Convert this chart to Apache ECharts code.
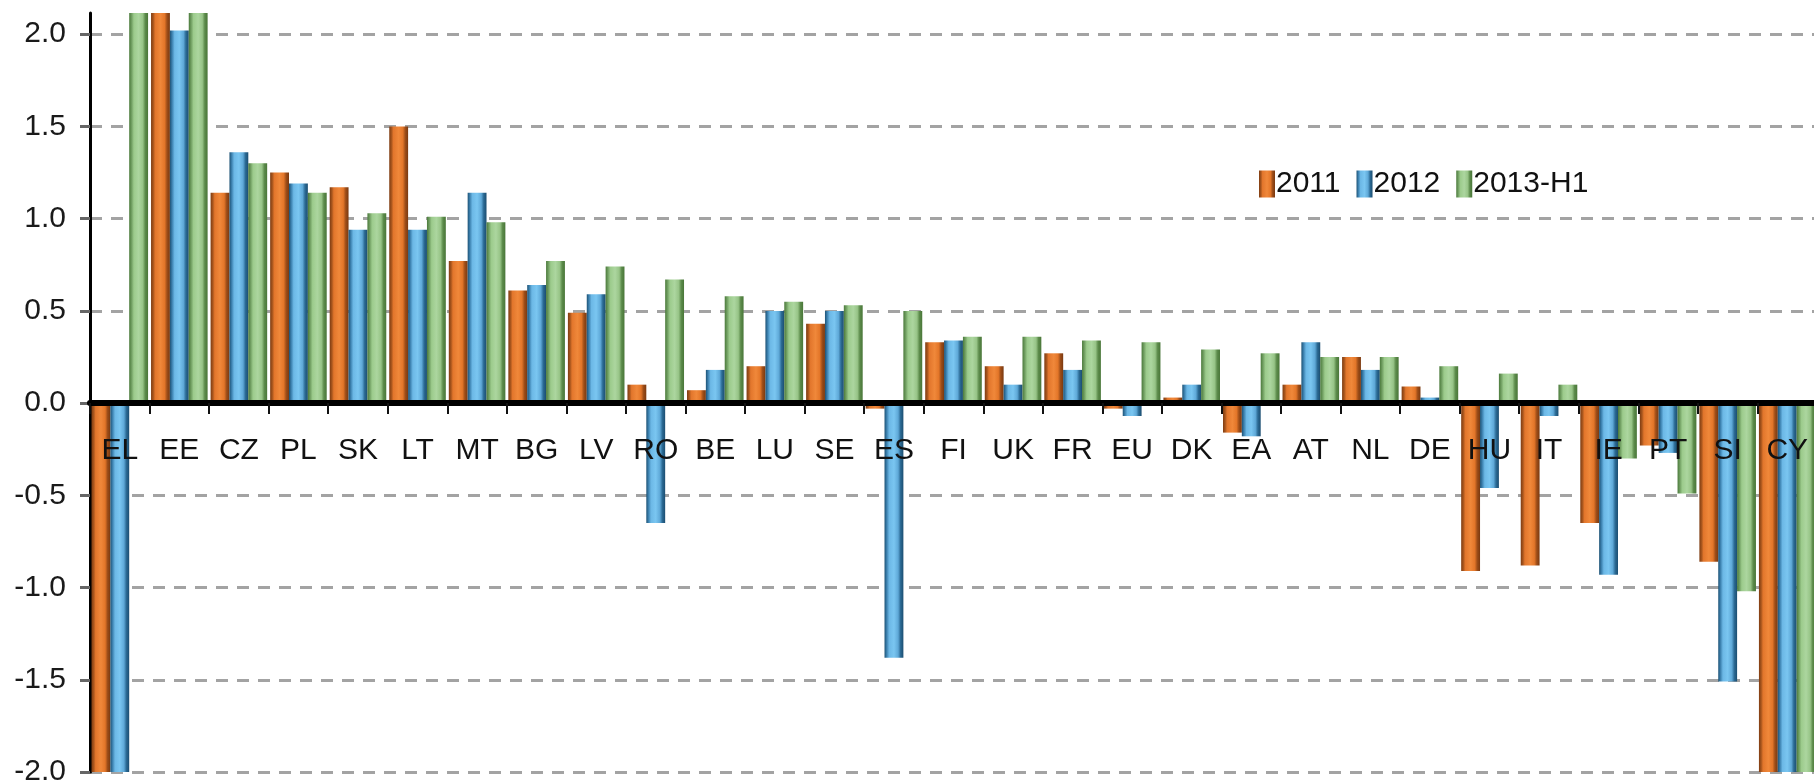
<!DOCTYPE html>
<html>
<head>
<meta charset="utf-8">
<script src="https://cdn.jsdelivr.net/npm/echarts@6/dist/echarts.min.js"></script>
<style>
  html, body { margin: 0; padding: 0; background: #ffffff; }
  #chart { width: 1814px; height: 784px; }
</style>
</head>
<body>
<div id="chart"></div>
<script>
// Country codes along the category axis
const categories = ['EL', 'EE', 'CZ', 'PL', 'SK', 'LT', 'MT', 'BG', 'LV', 'RO',
  'BE', 'LU', 'SE', 'ES', 'FI', 'UK', 'FR', 'EU', 'DK', 'EA',
  'AT', 'NL', 'DE', 'HU', 'IT', 'IE', 'PT', 'SI', 'CY'];

// Series values (percentage points)
const values2011 = [-2.6, 2.4, 1.14, 1.25, 1.17, 1.50, 0.77, 0.61, 0.49, 0.10,
  0.07, 0.20, 0.43, -0.03, 0.33, 0.20, 0.27, -0.03, 0.03, -0.16,
  0.10, 0.25, 0.09, -0.91, -0.88, -0.65, -0.23, -0.86, -2.4];
const values2012 = [-3.0, 2.02, 1.36, 1.19, 0.94, 0.94, 1.14, 0.64, 0.59, -0.65,
  0.18, 0.50, 0.50, -1.38, 0.34, 0.10, 0.18, -0.07, 0.10, -0.18,
  0.33, 0.18, 0.03, -0.46, -0.07, -0.93, -0.27, -1.51, -2.9];
const values2013H1 = [2.6, 2.3, 1.30, 1.14, 1.03, 1.01, 0.98, 0.77, 0.74, 0.67,
  0.58, 0.55, 0.53, 0.50, 0.36, 0.36, 0.34, 0.33, 0.29, 0.27,
  0.25, 0.25, 0.20, 0.16, 0.10, -0.30, -0.49, -1.02, -3.5];

// Value-axis tick labels
const yTicks = [-2.0, -1.5, -1.0, -0.5, 0.0, 0.5, 1.0, 1.5, 2.0];

const FONT = "'Liberation Sans', Arial, sans-serif";

// Plot area and value range
const GRID = { left: 90, right: -3, top: 13, bottom: 12 };
const Y_MIN = -2;
const Y_MAX = 2.115;
const CHART_H = 784;
const plotH = CHART_H - GRID.top - GRID.bottom;
// shift the category axis from the bottom edge up to the zero line
const zeroOffset = -plotH * (0 - Y_MIN) / (Y_MAX - Y_MIN);

// Rounded "cylinder" shading across each bar
function barShade(stops) {
  return new echarts.graphic.LinearGradient(0, 0, 1, 0,
    stops.map(([offset, color]) => ({ offset, color })));
}
const orangeFill = barShade([[0, '#7e3c12'], [0.12, '#a9561d'], [0.22, '#e2762c'],
  [0.5, '#f0883a'], [0.72, '#e37629'], [0.85, '#9d4d18'], [1, '#7a3910']]);
const blueFill = barShade([[0, '#1d5275'], [0.12, '#3d82b0'], [0.25, '#6cb8e6'],
  [0.5, '#7ac6f1'], [0.72, '#5fa9d8'], [0.85, '#2b6a94'], [1, '#1b4d70']]);
const greenFill = barShade([[0, '#4b7a3b'], [0.12, '#6f9d60'], [0.25, '#9ccb8c'],
  [0.5, '#acd69f'], [0.72, '#97c487'], [0.85, '#5c8b4b'], [1, '#497638']]);

const chart = echarts.init(document.getElementById('chart'), null, { renderer: 'canvas' });

function barSeries(name, data, fill) {
  return {
    name,
    type: 'bar',
    data,
    clip: true,
    barGap: '0%',
    barCategoryGap: '5%',
    itemStyle: { color: fill },
    emphasis: { disabled: true }
  };
}

chart.setOption({
  animation: false,
  backgroundColor: '#ffffff',
  textStyle: { fontFamily: FONT },
  grid: Object.assign({ containLabel: false, outerBoundsMode: 'none' }, GRID),
  legend: {
    data: ['2011', '2012', '2013-H1'],
    left: 1254,
    top: 164,
    icon: 'rect',
    itemWidth: 16,
    itemHeight: 27,
    itemGap: 16,
    textStyle: { fontFamily: FONT, fontSize: 30, color: '#111111', padding: [0, 0, 0, -4] },
    selectedMode: false
  },
  xAxis: {
    type: 'category',
    data: categories,
    z: 10,
    position: 'bottom',
    offset: zeroOffset,
    axisLine: { onZero: false, lineStyle: { color: '#000000', width: 6 } },
    axisTick: { show: true, inside: false, length: 11, lineStyle: { color: '#111111', width: 2 } },
    axisLabel: { fontFamily: FONT, fontSize: 30, color: '#111111', margin: 33, interval: 0 },
    splitLine: { show: false }
  },
  yAxis: {
    type: 'value',
    min: Y_MIN,
    max: Y_MAX,
    interval: 0.5,
    axisLine: { show: true, lineStyle: { color: '#000000', width: 3 } },
    axisTick: { show: true, length: 10, lineStyle: { color: '#666666', width: 3 } },
    axisLabel: {
      fontFamily: FONT,
      fontSize: 30,
      color: '#1a1a1a',
      margin: 24,
      showMaxLabel: false,
      formatter: v => (yTicks.some(t => Math.abs(t - v) < 1e-6) ? v.toFixed(1) : '')
    },
    splitLine: {
      show: true,
      showMaxLine: false,
      lineStyle: { color: '#a3a3a3', width: 3, type: [12, 9] }
    }
  },
  series: [
    barSeries('2011', values2011, orangeFill),
    barSeries('2012', values2012, blueFill),
    barSeries('2013-H1', values2013H1, greenFill)
  ]
});
</script>
</body>
</html>
